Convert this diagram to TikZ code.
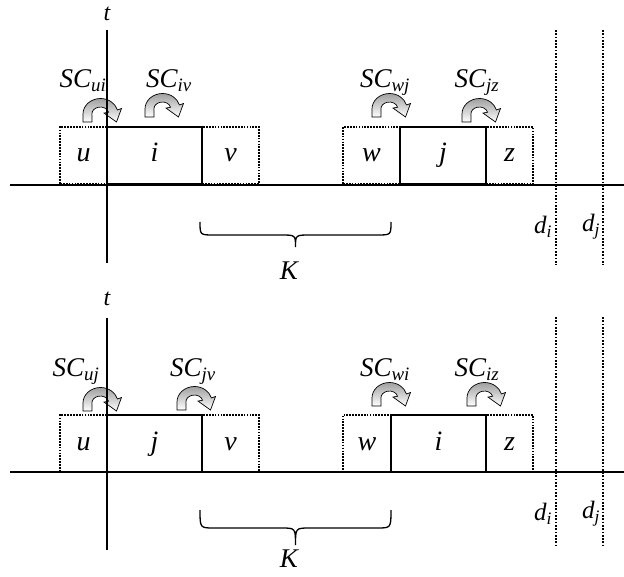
\documentclass[tikz,border=0pt]{standalone}
\usepackage{fontspec}
\setmainfont{Liberation Serif}
\begin{document}
\begin{tikzpicture}[x=1pt,y=-1pt,
  solidbox/.style={draw, line width=1.4pt, minimum height=57pt, inner sep=0pt, text height=13pt, text depth=0pt, font=\fontsize{28}{32}\selectfont\itshape},
  dotbox/.style={solidbox, line width=1.7pt, dash pattern=on 1.7pt off 1.2pt},
  axisline/.style={line width=1.5pt},
  guide/.style={line width=1.7pt, dash pattern=on 1.7pt off 1.6pt},
  lbl/.style={font=\fontsize{27}{31}\selectfont\itshape, inner sep=0pt},
  tlbl/.style={font=\fontsize{24}{28}\selectfont\itshape, inner sep=0pt},
  dlbl/.style={font=\fontsize{25}{29}\selectfont\itshape, inner sep=0pt},
  bracestyle/.style={line width=1.3pt},
  carrow/.pic={
    \draw[line width=0.7pt, left color=gray!75, right color=white, shading angle=0]
      (0pt,0pt) -- (0pt,8pt)
      arc[start angle=180, end angle=15, x radius=17.5pt, y radius=15.5pt]
      -- (38.5pt,13.5pt) -- (33.5pt,0pt) -- (21pt,8.9pt) -- (25.6pt,9.8pt)
      arc[start angle=15, end angle=180, x radius=8.5pt, y radius=7pt]
      -- (9pt,0pt) -- cycle;
  }
]
\useasboundingbox (0,0) rectangle (624,577);

% ---------------- top panel ----------------
\pic at (83,122) {carrow};
\pic at (145,117) {carrow};
\pic at (372,117) {carrow};
\pic at (462,122) {carrow};

\node[dotbox, minimum width=47pt] (u1) at (83.5,155.5) {u};
\node[dotbox, minimum width=57pt] (v1) at (230.5,155.5) {v};
\node[dotbox, minimum width=57pt] (w1) at (371.5,155.5) {w};
\node[dotbox, minimum width=47pt] (z1) at (509.5,155.5) {z};
\node[solidbox, minimum width=95pt] (i1) at (154.5,155.5) {i};
\node[solidbox, minimum width=86pt] (j1) at (443,155.5) {j};

\node[lbl, anchor=base] (sc1) at (83,88) {SC\textsubscript{ui}};
\node[lbl, anchor=base] (sc2) at (169,88) {SC\textsubscript{iv}};
\node[lbl, anchor=base] (sc3) at (385,88) {SC\textsubscript{wj}};
\node[lbl, anchor=base] (sc4) at (477,88) {SC\textsubscript{jz}};

\node[tlbl] (t1) at (107,14) {t};
\coordinate (ta1) at (107,30);
\coordinate (tb1) at (107,263);
\draw[axisline] (ta1) -- (tb1);
\coordinate (xa1) at (10,185);
\coordinate (xb1) at (624,185);
\draw[axisline] (xa1) -- (xb1);

\coordinate (ga1) at (556,30);
\coordinate (gb1) at (556,265);
\coordinate (gc1) at (603,30);
\coordinate (gd1) at (603,265);
\draw[guide] (ga1) -- (gb1);
\draw[guide] (gc1) -- (gd1);
\node[dlbl] (di1) at (543,227) {d\textsubscript{i}};
\node[dlbl] (dj1) at (591,227) {d\textsubscript{j}};

\draw[bracestyle] (200,222) .. controls (200,235) .. (214,235) -- (281,235)
  .. controls (295.5,235) .. (295.5,247) .. controls (295.5,235) .. (310,235)
  -- (377,235) .. controls (391,235) .. (391,222);
\node[lbl] (k1) at (289,271) {K};

% ---------------- bottom panel ----------------
\pic at (83,411) {carrow};
\pic at (177,410) {carrow};
\pic at (372,406) {carrow};
\pic at (467,406) {carrow};

\node[dotbox, minimum width=47pt] (u2) at (83.5,443.5) {u};
\node[dotbox, minimum width=57pt] (v2) at (230.5,443.5) {v};
\node[dotbox, minimum width=48pt] (w2) at (367,443.5) {w};
\node[dotbox, minimum width=47pt] (z2) at (509.5,443.5) {z};
\node[solidbox, minimum width=95pt] (j2) at (154.5,443.5) {j};
\node[solidbox, minimum width=95pt] (i2) at (438.5,443.5) {i};

\node[lbl, anchor=base] (sc5) at (76,377) {SC\textsubscript{uj}};
\node[lbl, anchor=base] (sc6) at (193,377) {SC\textsubscript{jv}};
\node[lbl, anchor=base] (sc7) at (385,377) {SC\textsubscript{wi}};
\node[lbl, anchor=base] (sc8) at (477,377) {SC\textsubscript{iz}};

\node[tlbl] (t2) at (107,299) {t};
\coordinate (ta2) at (107,318);
\coordinate (tb2) at (107,550);
\draw[axisline] (ta2) -- (tb2);
\coordinate (xa2) at (10,472);
\coordinate (xb2) at (624,472);
\draw[axisline] (xa2) -- (xb2);

\coordinate (ga2) at (556,317);
\coordinate (gb2) at (556,545);
\coordinate (gc2) at (603,317);
\coordinate (gd2) at (603,545);
\draw[guide] (ga2) -- (gb2);
\draw[guide] (gc2) -- (gd2);
\node[dlbl] (di2) at (543,514) {d\textsubscript{i}};
\node[dlbl] (dj2) at (591,514) {d\textsubscript{j}};

\draw[bracestyle] (200,510) .. controls (200,528) .. (214,528) -- (281,528)
  .. controls (295.5,528) .. (295.5,545) .. controls (295.5,528) .. (310,528)
  -- (377,528) .. controls (391,528) .. (391,510);
\node[lbl] (k2) at (289,559) {K};
\end{tikzpicture}
\end{document}
